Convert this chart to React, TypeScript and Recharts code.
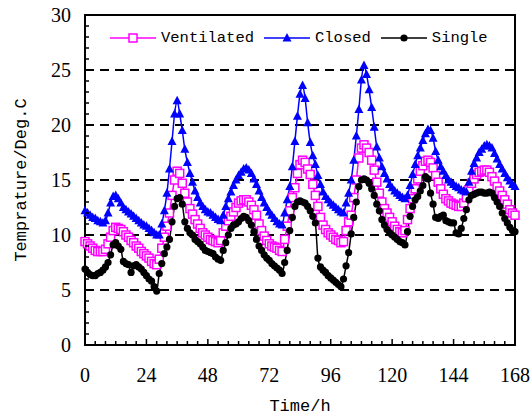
import { LineChart, Line, XAxis, YAxis, ReferenceLine, ReferenceArea, Legend } from "recharts";

// hourly readings, h = 0..168
const ventilated = [
  9.4, 9.2, 9.0, 8.8, 8.6, 8.5, 8.5, 8.5, 8.7, 9.2, 9.8, 10.4,
  10.7, 10.6, 10.5, 10.3, 10.0, 9.8, 9.5, 9.3, 9.0, 8.8, 8.5, 8.3,
  8.1, 7.9, 7.6, 7.4, 7.3, 7.8, 8.8, 9.8, 10.8, 12.0, 13.6, 15.0,
  15.8, 15.6, 14.7, 13.8, 13.0, 12.4, 11.9, 11.4, 11.0, 10.6, 10.2, 10.0,
  9.8, 9.6, 9.5, 9.4, 9.3, 9.5, 10.2, 10.8, 11.3, 11.7, 12.1, 12.5,
  12.9, 13.1, 13.2, 13.2, 13.0, 12.7, 12.3, 11.8, 11.0, 10.4, 9.9, 9.5,
  9.2, 9.0, 8.9, 8.8, 8.6, 8.5, 9.6, 10.8, 12.2, 13.4, 14.3, 15.6,
  16.4, 16.8, 16.6, 16.0, 15.5, 14.6, 13.6, 12.6, 11.6, 10.9, 10.5, 10.2,
  10.0, 9.8, 9.6, 9.5, 9.3, 9.4, 10.4, 11.2, 11.8, 13.4, 15.0, 17.0,
  17.9, 18.2, 17.9, 17.5, 16.8, 15.9, 14.8, 13.8, 13.0, 12.4, 12.0, 11.6,
  11.2, 10.8, 10.5, 10.3, 10.2, 10.4, 11.4, 12.4, 13.3, 14.2, 15.1, 15.8,
  16.3, 16.7, 16.8, 16.6, 16.1, 15.4, 14.8, 14.2, 13.7, 13.3, 13.1, 12.9,
  12.8, 12.7, 12.6, 12.6, 12.9, 13.4, 14.1, 14.7, 15.1, 15.5, 15.7, 15.8,
  15.9, 15.9, 15.7, 15.3, 14.9, 14.4, 14.0, 13.6, 13.2, 12.8, 12.3, 12.0,
  11.8,
];

const closed = [
  12.2, 12.0, 11.8, 11.6, 11.5, 11.3, 11.2, 11.1, 11.3, 12.0, 12.9, 13.5,
  13.6, 13.3, 12.9, 12.5, 12.3, 12.1, 11.9, 11.7, 11.5, 11.3, 11.1, 10.9,
  10.8, 10.6, 10.4, 10.2, 10.0, 10.0, 11.0, 12.2, 13.8, 16.0, 18.5, 21.0,
  22.2, 21.0, 19.5, 17.8, 16.6, 15.6, 14.8, 14.0, 13.4, 12.9, 12.6, 12.3,
  12.1, 12.0, 11.8, 11.6, 11.4, 11.3, 11.8, 12.6, 13.3, 13.9, 14.5, 15.0,
  15.4, 15.7, 16.0, 16.1, 15.9, 15.6, 15.1, 14.6, 14.0, 13.4, 12.9, 12.5,
  12.1, 11.8, 11.5, 11.2, 11.0, 10.9, 12.0, 13.2, 14.4, 16.2, 18.5, 20.8,
  22.8, 23.6, 22.4, 20.2, 18.4, 17.2, 16.4, 15.4, 14.6, 13.9, 13.5, 13.2,
  12.9, 12.7, 12.5, 12.3, 12.1, 12.0, 12.9, 13.8, 15.0, 16.8, 19.0, 21.4,
  24.1, 25.4, 24.6, 23.2, 21.6, 19.8, 18.0, 17.0, 16.2, 15.6, 15.1, 14.6,
  14.3, 14.0, 13.8, 13.6, 13.4, 13.3, 13.6, 14.5, 15.5, 16.4, 17.2, 17.9,
  18.6, 19.2, 19.6, 19.5, 18.8, 17.6, 16.8, 16.2, 15.8, 15.4, 15.0, 14.8,
  14.6, 14.4, 14.3, 14.1, 14.0, 13.9, 14.8, 15.8, 16.5, 17.0, 17.5, 17.8,
  18.1, 18.2, 18.1, 17.9, 17.4, 16.9, 16.4, 16.0, 15.6, 15.2, 14.9, 14.6,
  14.4,
];

const single = [
  6.9, 6.6, 6.4, 6.3, 6.3, 6.5, 6.6, 6.8, 7.1, 7.5, 8.2, 9.1,
  9.3, 9.0, 8.7, 7.6, 7.4, 7.3, 6.6, 7.2, 7.3, 7.1, 6.9, 6.6,
  6.3, 6.0, 5.8, 5.3, 4.9, 6.5, 7.4, 8.3, 8.9, 9.6, 11.2, 12.6,
  13.3, 13.4, 12.8, 11.2, 10.6, 10.2, 10.0, 9.6, 9.4, 9.2, 8.9, 8.6,
  8.5, 8.4, 8.3, 8.0, 7.8, 7.7, 8.6, 9.3, 10.0, 10.6, 10.9, 11.0,
  11.2, 11.5, 11.7, 11.6, 11.3, 10.9, 10.3, 9.6, 9.0, 8.6, 8.2, 7.9,
  7.7, 7.4, 7.2, 7.0, 6.8, 6.5, 7.5, 8.6, 10.4, 11.6, 12.6, 13.0,
  13.1, 13.0, 12.9, 12.6, 12.2, 11.7, 11.1, 7.9, 7.1, 6.8, 6.6, 6.3,
  6.1, 5.9, 5.7, 5.5, 5.3, 6.0, 7.2, 8.4, 10.1, 11.6, 13.0, 14.4,
  15.0, 15.1, 15.0, 14.7, 14.2, 13.6, 12.8, 12.2, 11.4, 10.9, 10.5, 10.2,
  10.0, 9.8, 9.6, 9.4, 9.3, 9.1, 10.3, 11.7, 12.6, 13.2, 13.5, 14.0,
  14.5, 15.3, 15.1, 13.8, 12.8, 11.6, 11.5, 11.7, 11.8, 11.3, 11.2, 11.1,
  11.1, 10.2, 10.1, 10.6, 11.5, 12.3, 13.2, 13.6, 13.7, 13.8, 13.9, 13.9,
  13.8, 13.8, 13.9, 13.8, 13.4, 13.0, 12.6, 12.0, 11.5, 11.1, 10.7, 10.4,
  10.3,
];

const xTicks = [0, 4, 8, 12, 16, 20, 24, 28, 32, 36, 40, 44, 48, 52, 56, 60, 64, 68, 72, 76, 80, 84, 88, 92,
  96, 100, 104, 108, 112, 116, 120, 124, 128, 132, 136, 140, 144, 148, 152, 156, 160, 164, 168];
const yTicks = [0, 1, 2, 3, 4, 5, 6, 7, 8, 9, 10, 11, 12, 13, 14, 15, 16, 17, 18, 19, 20,
  21, 22, 23, 24, 25, 26, 27, 28, 29, 30];
const gridValues = [5, 10, 15, 20, 25];

const data = ventilated.map((v, i) => ({ h: i, ventilated: v, closed: closed[i], single: single[i] }));

const MAGENTA = "#ff00ff";
const BLUE = "#0000ff";
const NUM_FONT = "'Liberation Serif', serif";
const TXT_FONT = "'Liberation Mono', monospace";

const Square = ({ cx, cy }: any) => (
  <rect x={cx - 4} y={cy - 4} width={8} height={8} fill="#fff" stroke={MAGENTA} strokeWidth={1.5} />
);
const Triangle = ({ cx, cy }: any) => (
  <polygon points={`${cx},${cy - 5} ${cx - 4.5},${cy + 3.5} ${cx + 4.5},${cy + 3.5}`} fill={BLUE} />
);
const Dot = ({ cx, cy }: any) => <circle cx={cx} cy={cy} r={3.6} fill="#000" />;

const XTick = ({ x, y, payload }: any) => {
  const major = payload.value % 24 === 0;
  return (
    <g>
      <line x1={x} y1={y} x2={x} y2={y - (major ? 6 : 4)} stroke="#000" strokeWidth={1.5} />
      {major && (
        <text x={x} y={y + 37} textAnchor="middle" fontFamily={NUM_FONT} fontSize={20} fill="#000">
          {payload.value}
        </text>
      )}
    </g>
  );
};

const YTick = ({ x, y, payload }: any) => {
  const major = payload.value % 5 === 0;
  return (
    <g>
      <line x1={x} y1={y} x2={x + (major ? 6 : 4)} y2={y} stroke="#000" strokeWidth={1.5} />
      {major && (
        <text x={x - 14} y={y + 7} textAnchor="end" fontFamily={NUM_FONT} fontSize={20} fill="#000">
          {payload.value}
        </text>
      )}
    </g>
  );
};

const legendItems = [
  { name: "Ventilated", color: MAGENTA, marker: "square" },
  { name: "Closed", color: BLUE, marker: "triangle" },
  { name: "Single", color: "#000", marker: "dot" },
];

const LegendContent = () => (
  <div style={{ display: "flex", alignItems: "center", fontFamily: TXT_FONT, fontSize: 15.5, lineHeight: "20px", whiteSpace: "nowrap", color: "#000" }}>
    {legendItems.map((it) => (
      <div key={it.name} style={{ display: "flex", alignItems: "center", marginRight: 10 }}>
        <svg width={46} height={14}>
          <line x1={0} y1={7} x2={46} y2={7} stroke={it.color} strokeWidth={1.5} />
          {it.marker === "square" && <rect x={19} y={3} width={8} height={8} fill="#fff" stroke={MAGENTA} strokeWidth={1.5} />}
          {it.marker === "triangle" && <polygon points="23,2 18.5,10.5 27.5,10.5" fill={BLUE} />}
          {it.marker === "dot" && <circle cx={23} cy={7} r={3.6} fill="#000" />}
        </svg>
        <span style={{ marginLeft: 5 }}>{it.name}</span>
      </div>
    ))}
  </div>
);

export default function App() {
  return (
    <div style={{ position: "absolute", left: 0, top: 0, width: 531, height: 417, background: "#fff" }}>
      <LineChart width={531} height={417} data={data} margin={{ top: 15, right: 16, bottom: 0, left: 0 }}>
        <XAxis
          type="number"
          dataKey="h"
          domain={[0, 168]}
          ticks={xTicks}
          interval={0}
          height={72}
          tickLine={false}
          tickSize={0}
          tickMargin={0}
          tick={<XTick />}
          axisLine={{ stroke: "#000", strokeWidth: 2 }}
          label={{ value: "Time/h", position: "insideBottom", offset: 6, fontFamily: TXT_FONT, fontSize: 17, fill: "#000" }}
        />
        <YAxis
          type="number"
          domain={[0, 30]}
          ticks={yTicks}
          interval={0}
          width={85}
          tickLine={false}
          tickSize={0}
          tickMargin={0}
          tick={<YTick />}
          axisLine={{ stroke: "#000", strokeWidth: 2 }}
          label={{
            value: "Temprature/Deg.C",
            angle: -90,
            position: "insideLeft",
            offset: 20,
            fontFamily: TXT_FONT,
            fontSize: 17,
            fill: "#000",
            style: { textAnchor: "middle" },
          }}
        />
        {gridValues.map((v) => (
          <ReferenceLine key={v} y={v} stroke="#000" strokeWidth={2} strokeDasharray="9 6" />
        ))}
        <ReferenceArea x1={0} x2={168} y1={0} y2={30} fill="none" stroke="#000" strokeWidth={2} />
        <Legend verticalAlign="middle" align="center" wrapperStyle={{ top: 28, left: 110, width: "auto" }} content={<LegendContent />} />
        <Line type="monotone" dataKey="ventilated" name="Ventilated" stroke={MAGENTA} strokeWidth={1.5} dot={<Square />} isAnimationActive={false} />
        <Line type="monotone" dataKey="closed" name="Closed" stroke={BLUE} strokeWidth={1.5} dot={<Triangle />} isAnimationActive={false} />
        <Line type="monotone" dataKey="single" name="Single" stroke="#000" strokeWidth={1.5} dot={<Dot />} isAnimationActive={false} />
      </LineChart>
    </div>
  );
}
